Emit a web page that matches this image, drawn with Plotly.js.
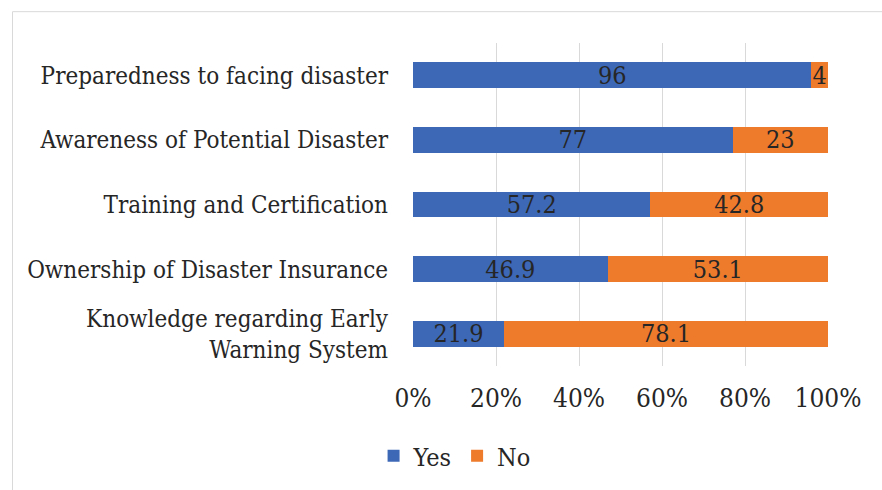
<!DOCTYPE html>
<html>
<head>
<meta charset="utf-8">
<script src="https://cdn.plot.ly/plotly-3.0.1.min.js"></script>
<style>html,body{margin:0;padding:0;background:#fff;}#chart{width:882px;height:490px;}</style>
</head>
<body>
<div id="chart"></div>
<script>
const categories = [
  "Preparedness to facing disaster",
  "Awareness of Potential Disaster",
  "Training and Certification",
  "Ownership of Disaster Insurance",
  "Knowledge regarding Early<br>Warning System"
];
const yesValues = [96, 77, 57.2, 46.9, 21.9];
const noValues = [4, 23, 42.8, 53.1, 78.1];
const xTickVals = [0, 20, 40, 60, 80, 100];
const xTickText = ["0%", "20%", "40%", "60%", "80%", "100%"];

const FONT = "DejaVu Serif Condensed";
const TXT = "#262626";

const traces = [
  {
    type: "bar", orientation: "h", name: "Yes",
    y: categories, x: yesValues,
    text: yesValues.map(String), textposition: "inside", insidetextanchor: "middle",
    constraintext: "none", textangle: 0,
    textfont: {family: FONT, size: 25, color: TXT},
    marker: {color: "#3D68B6"}
  },
  {
    type: "bar", orientation: "h", name: "No",
    y: categories, x: noValues,
    text: noValues.map(String), textposition: "inside", insidetextanchor: "middle",
    constraintext: "none", textangle: 0,
    textfont: {family: FONT, size: 25, color: TXT},
    marker: {color: "#EE7A2C"}
  }
];

const layout = {
  width: 882, height: 490,
  margin: {l: 413, r: 54, t: 43, b: 123, pad: 0},
  paper_bgcolor: "#fff", plot_bgcolor: "#fff",
  barmode: "stack", bargap: 0.6,
  font: {family: FONT, size: 25, color: TXT},
  xaxis: {
    range: [0, 100], tickvals: xTickVals, ticktext: xTickText,
    showgrid: true, gridcolor: "#D9D9D9", gridwidth: 1,
    zeroline: false, showline: false, ticks: "",
    ticklabelstandoff: 14,
    tickfont: {family: FONT, size: 26, color: TXT}
  },
  yaxis: {
    type: "category", autorange: "reversed", ticks: "",
    showgrid: false, zeroline: false, showline: false,
    ticklabelstandoff: 24,
    tickfont: {family: FONT, size: 24, color: TXT}
  },
  showlegend: true,
  legend: {
    orientation: "h", x: -0.095, xanchor: "left", y: -0.275, yanchor: "middle",
    traceorder: "normal", itemwidth: 30, bgcolor: "rgba(0,0,0,0)",
    font: {family: FONT, size: 25, color: TXT}
  },
  shapes: [{
    type: "rect", xref: "paper", yref: "paper",
    x0: -0.965, x1: 1.3, y0: -1, y1: 1.097,
    line: {color: "#D9D9D9", width: 1}, fillcolor: "rgba(0,0,0,0)", layer: "below"
  }]
};

Plotly.newPlot("chart", traces, layout, {displayModeBar: false, staticPlot: true});
</script>
</body>
</html>
